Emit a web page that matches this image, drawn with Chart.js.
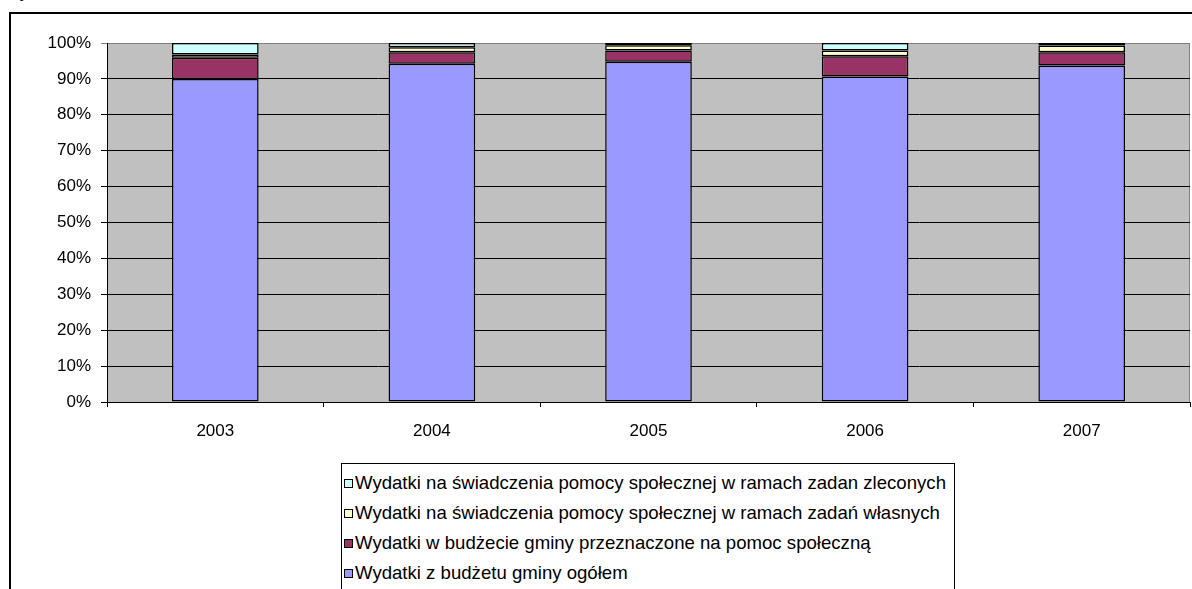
<!DOCTYPE html>
<html>
<head>
<meta charset="utf-8">
<script src="https://cdn.jsdelivr.net/npm/chart.js@4"></script>
<style>
  html, body { margin: 0; padding: 0; background: #fff; overflow: hidden; }
  body { width: 1192px; height: 589px; position: relative; font-family: "Liberation Sans", Arial, sans-serif; }
  #frame { position: absolute; left: 9px; top: 12px; width: 1300px; height: 700px; border: 2px solid #000; box-sizing: border-box; }
  #cut { position: absolute; left: 3px; top: -19px; font-size: 18px; color: #000; }
  #chart { position: absolute; left: 0; top: 0; }
  #legend { position: absolute; left: 341px; top: 463px; width: 612px; height: 200px; border: 1px solid #000; background: #fff; }
  .row { position: absolute; left: 2px; height: 20px; line-height: 20px; font-size: 18.6px; color: #000; white-space: nowrap; }
  .sw { display: inline-block; width: 7px; height: 7px; border: 1px solid #000; margin-right: 2px; vertical-align: 1px; }
</style>
</head>
<body>
<div id="frame"></div>
<div id="cut">Wykres</div>
<canvas id="chart" width="1192" height="589"></canvas>
<div id="legend"></div>
<script>
// Data (share of total, %)
const years = ['2003', '2004', '2005', '2006', '2007'];
const ogolem = [90.0, 94.2, 94.8, 90.7, 93.7];          // Wydatki z budżetu gminy ogółem
const pomocSpoleczna = [5.9, 3.2, 3.1, 5.6, 3.7];       // w budżecie gminy na pomoc społeczną
const zadaniaWlasne = [0.9, 1.4, 1.5, 1.6, 1.9];        // świadczenia w ramach zadań własnych
const zadaniaZlecone = [3.2, 1.2, 0.6, 2.1, 0.7];       // świadczenia w ramach zadan zleconych
const yTicks = [0, 10, 20, 30, 40, 50, 60, 70, 80, 90, 100];

const seriesNames = [
    'Wydatki z budżetu gminy ogółem',
    'Wydatki w budżecie gminy przeznaczone na pomoc społeczną',
    'Wydatki na świadczenia pomocy społecznej w ramach zadań własnych',
    'Wydatki na świadczenia pomocy społecznej w ramach zadan zleconych'
];
const seriesColors = ['#9999FF', '#993366', '#FFFFCC', '#CCFFFF'];
const seriesData = [ogolem, pomocSpoleczna, zadaniaWlasne, zadaniaZlecone];

// Plot background and gray frame of the plot area
const plotBg = {
    id: 'plotBg',
    beforeDraw(chart) {
        const { ctx, chartArea: a } = chart;
        ctx.save();
        ctx.fillStyle = '#C0C0C0';
        ctx.fillRect(a.left, a.top, a.right - a.left, a.bottom - a.top);
        ctx.strokeStyle = '#808080';
        ctx.lineWidth = 1;
        ctx.beginPath();
        ctx.moveTo(a.left, a.top + 0.5);
        ctx.lineTo(a.right - 0.5, a.top + 0.5);
        ctx.lineTo(a.right - 0.5, a.bottom);
        ctx.stroke();
        ctx.restore();
    }
};

const font = { family: '"Liberation Sans", Arial, sans-serif', size: 17 };

new Chart(document.getElementById('chart'), {
    type: 'bar',
    data: {
        labels: years,
        datasets: seriesData.map((d, i) => ({
            label: seriesNames[i],
            data: d,
            backgroundColor: seriesColors[i],
            borderColor: '#000',
            borderWidth: 1.5,
            borderSkipped: false,
            barPercentage: 0.4,
            categoryPercentage: 1.0
        }))
    },
    options: {
        responsive: false,
        animation: false,
        layout: { padding: { top: 43, right: 2, left: 0, bottom: 0 } },
        plugins: { legend: { display: false }, tooltip: { enabled: false } },
        scales: {
            x: {
                stacked: true,
                afterFit(scale) { scale.height = 187; },
                grid: { display: true, offset: true, drawOnChartArea: false, drawTicks: true, tickLength: 5, color: '#000', lineWidth: 1 },
                border: { color: '#000', width: 1 },
                ticks: { color: '#000', font, padding: 14, maxRotation: 0 }
            },
            y: {
                stacked: true,
                min: 0,
                max: 100,
                afterFit(scale) { scale.width = 107; },
                afterBuildTicks(scale) { scale.ticks = yTicks.map(v => ({ value: v })); },
                grid: {
                    color: ctx => (ctx.tick && ctx.tick.value === 100) ? '#808080' : '#000',
                    lineWidth: 1,
                    tickLength: 6,
                    drawTicks: true
                },
                border: { color: '#000', width: 1 },
                ticks: { color: '#000', font, padding: 10, callback: v => v + '%' }
            }
        }
    },
    plugins: [plotBg]
});

// Legend box, reversed order like the original
const legend = document.getElementById('legend');
const rowTops = [9, 39, 69, 99];
for (let i = seriesNames.length - 1, r = 0; i >= 0; i--, r++) {
    const row = document.createElement('div');
    row.className = 'row';
    row.style.top = rowTops[r] + 'px';
    const sw = document.createElement('span');
    sw.className = 'sw';
    sw.style.background = seriesColors[i];
    row.appendChild(sw);
    row.appendChild(document.createTextNode(seriesNames[i]));
    legend.appendChild(row);
}
</script>
</body>
</html>
